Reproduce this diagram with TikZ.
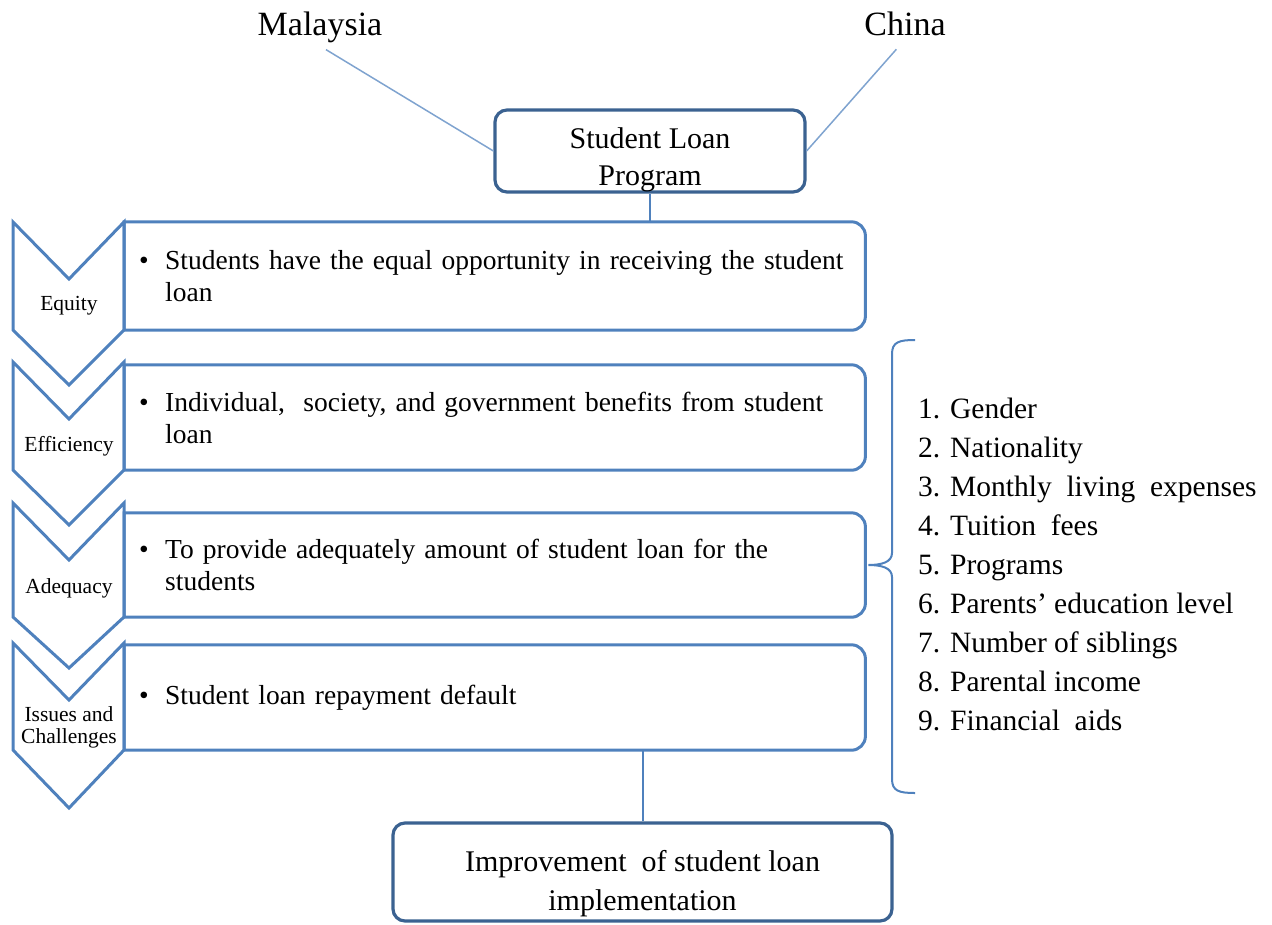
\documentclass[tikz,border=0pt]{standalone}
\usepackage{fontspec}
\setmainfont{Liberation Serif}
\usetikzlibrary{calc}
\definecolor{shapeblue}{HTML}{4F81BD}
\definecolor{darkblue}{HTML}{3B6291}
\definecolor{lightblue}{HTML}{7FA3CF}

\begin{document}
\begin{tikzpicture}[x=1pt, y=-1pt, line join=miter,
	chevron/.style = {draw=shapeblue, line width=3pt},
	itembox/.style = {anchor=west, minimum width=741pt, inner xsep=15pt, text width=711pt, align=left,
					  font=\fontsize{27.5}{32}\selectfont},
	mainbox/.style = {draw=darkblue, line width=3.2pt, rounded corners=12pt, align=center,
					  font=\fontsize{30}{37}\selectfont},
	tag/.style = {align=center, inner sep=1pt, font=\fontsize{21.5}{23}\selectfont},
	country/.style = {font=\fontsize{34}{40}\selectfont},
	link/.style = {draw=shapeblue, line width=2pt},
	thin/.style = {draw=lightblue, line width=1.5pt},
	]

	\useasboundingbox (0,0) rectangle (1272,924);

	\node[country] (malaysia) at (320,27) {Malaysia};
	\node[country] (china) at (905,24) {China};
	\node[mainbox, inner ysep=0pt, minimum width=310pt, minimum height=82pt] (prog) at (650,151) {\rule{0pt}{38pt}Student Loan\\Program};

	\draw[thin, shorten <=7pt] (malaysia.south) -- (prog.west); % left country
	\draw[thin, shorten <=13pt] (china.south) -- (prog.east); % right country

	% chevrons on the left
	\draw[chevron] (13,222) -- (69,279) -- (124,222) -- (124,330) -- (69,385) -- (13,330) -- cycle;
	\draw[chevron] (13,362) -- (69,419) -- (124,362) -- (124,470) -- (69,525) -- (13,470) -- cycle;
	\draw[chevron] (13,503) -- (69,560) -- (124,503) -- (124,617) -- (69,668) -- (13,617) -- cycle;
	\draw[chevron] (13,643) -- (69,700) -- (124,643) -- (124,750) -- (69,808) -- (13,750) -- cycle;

	\node[tag] (equitytag) at (69,306) {Equity};
	\node[tag] (efftag) at (69,446) {Efficiency};
	\node[tag] (adeqtag) at (69,588) {Adequacy};
	\node[tag, font=\fontsize{21.5}{22}\selectfont] (issuetag) at (69,727) {Issues and\\Challenges};

	% item boxes
	\node[itembox, minimum height=108pt] (equity) at (124,276)
		{\makebox[26pt][l]{\textbullet}Students have the equal opportunity in receiving the student\\\hspace*{26pt}loan};
	\node[itembox, minimum height=105pt] (efficiency) at (124,417.5)
		{\makebox[26pt][l]{\textbullet}Individual, \ society, and government benefits from student\\\hspace*{26pt}loan};
	\node[itembox, minimum height=104pt] (adequacy) at (124,565)
		{\makebox[26pt][l]{\textbullet}To provide adequately amount of student loan for the\\\hspace*{26pt}students};
	\node[itembox, minimum height=105pt] (issues) at (124,697.5)
		{\makebox[26pt][l]{\textbullet}Student loan repayment default};

	\foreach \b in {equity, efficiency, adequacy, issues}
		\draw[chevron] (\b.south west) -- (\b.north west) [rounded corners=14pt] -- (\b.north east) -- (\b.south east) -- (\b.south west);

	\draw[link] (prog.south) -- (prog.south |- equity.north);

	% factor list with bracket
	\node[anchor=west, align=left, inner xsep=0pt, font=\fontsize{29.5}{39}\selectfont] (factors) at (918,564)
		{1. Gender\\2. Nationality\\3. Monthly \ living \ expenses\\4. Tuition \ fees\\5. Programs\\6. Parents' education level\\7. Number of siblings\\8. Parental income\\9. Financial \ aids};

	\coordinate (tip) at ($(adequacy.east)+(3,0)$);
	\draw[link] (915,340) .. controls (899,340) and (892,342) .. (892,354) -- (892,553)
		.. controls (892,562) and (882,565) .. (tip) .. controls (882,565) and (892,568) .. (892,577)
		-- (892,779) .. controls (892,791) and (899,793) .. (915,793);

	\node[mainbox, minimum width=499pt, minimum height=98pt, font=\fontsize{30}{39}\selectfont] (improve) at (642.5,872)
		{\rule{0pt}{44pt}Improvement \ of student loan\\implementation};
	\draw[link] (improve.north) -- (improve.north |- issues.south);

\end{tikzpicture}
\end{document}
